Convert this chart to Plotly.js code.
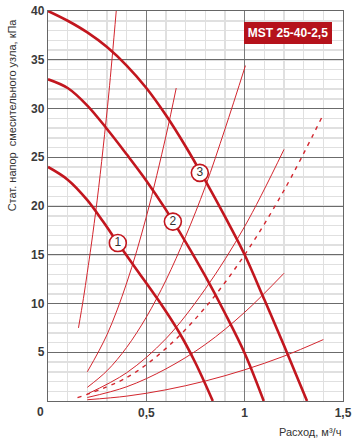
<!DOCTYPE html>
<html>
<head>
<meta charset="utf-8">
<script src="https://cdn.plot.ly/plotly-3.0.1.min.js"></script>
<style>html,body{margin:0;padding:0;background:#fff;}#chart{width:359px;height:440px;}</style>
</head>
<body>
<div id="chart"></div>
<script>
// Pump curves (thick)
const pump1X = [0, 0.1, 0.2, 0.28, 0.355, 0.45, 0.559, 0.668, 0.75, 0.838];
const pump1Y = [24, 22.7, 20.6, 18.4, 16.2, 13.5, 10.4, 7.0, 3.9, 0];
const pump2X = [0, 0.1, 0.2, 0.3, 0.4, 0.5, 0.6, 0.7, 0.8, 0.9, 1.0, 1.097];
const pump2Y = [33, 32.1, 30.3, 27.9, 25.3, 22.6, 19.6, 16.3, 12.8, 9.0, 4.9, 0];
const pump3X = [0, 0.1, 0.2, 0.3, 0.4, 0.5, 0.6, 0.7, 0.8, 0.9, 1.0, 1.1, 1.2, 1.317];
const pump3Y = [40, 39.0, 37.8, 36.3, 34.4, 32.1, 29.3, 26.1, 22.6, 18.9, 15.0, 10.4, 5.7, 0];

// System curves (thin)
const sys1X = [0.155, 0.18, 0.2, 0.22, 0.25, 0.28, 0.31, 0.347];
const sys1Y = [7.5, 10.5, 13.2, 16.0, 20.6, 25.9, 31.7, 40];
const sys2X = [0.2, 0.3, 0.4, 0.5, 0.6, 0.652];
const sys2Y = [3.0, 6.8, 12.1, 18.9, 27.2, 32.1];
const sys3X = [0.2, 0.3, 0.4, 0.5, 0.6, 0.7, 0.8, 0.9, 1.004];
const sys3Y = [1.4, 3.1, 5.5, 8.6, 12.4, 16.9, 22.0, 27.9, 34.4];
const sys4X = [0.2, 0.4, 0.6, 0.8, 1.0, 1.2];
const sys4Y = [0.72, 2.9, 6.4, 11.5, 17.9, 25.8];
const sysDashX = [0.15, 0.4, 0.6, 0.8, 1.0, 1.2, 1.4];
const sysDashY = [0.34, 2.4, 5.4, 9.6, 15.0, 21.6, 29.4];
const sys6X = [0.2, 0.4, 0.6, 0.8, 1.0, 1.2];
const sys6Y = [0.36, 1.46, 3.3, 5.8, 9.1, 13.1];
const sys7X = [0.2, 0.4, 0.6, 0.8, 1.0, 1.2, 1.4];
const sys7Y = [0.13, 0.5, 1.15, 2.05, 3.2, 4.6, 6.3];

// Curve number markers
const markX = [0.355, 0.635, 0.772];
const markY = [16.2, 18.4, 23.4];
const markText = ['1', '2', '3'];

// Ticks
const xTickVals = [0.5, 1, 1.5];
const xTickText = ['0,5', '1', '1,5'];
const yTickVals = [5, 10, 15, 20, 25, 30, 35, 40];

const thick = '#c2161e';
const thin = '#d3262e';
const font = 'Liberation Sans, Arial, sans-serif';

function thinLine(x, y, dash) {
  return {x: x, y: y, type: 'scatter', mode: 'lines',
    line: {color: thin, width: dash ? 1.4 : 1, shape: 'spline', smoothing: 1, dash: dash ? '4px,5px' : 'solid'},
    hoverinfo: 'skip', showlegend: false};
}
function thickLine(x, y) {
  return {x: x, y: y, type: 'scatter', mode: 'lines',
    line: {color: thick, width: 2.6, shape: 'spline', smoothing: 1},
    hoverinfo: 'skip', showlegend: false};
}

const data = [
  thinLine(sys1X, sys1Y), thinLine(sys2X, sys2Y), thinLine(sys3X, sys3Y),
  thinLine(sys4X, sys4Y), thinLine(sysDashX, sysDashY, true),
  thinLine(sys6X, sys6Y), thinLine(sys7X, sys7Y),
  thickLine(pump1X, pump1Y), thickLine(pump2X, pump2Y), thickLine(pump3X, pump3Y),
  {x: markX, y: markY, text: markText, type: 'scatter', mode: 'markers+text',
   marker: {size: 17, color: '#ffffff', line: {color: thick, width: 1.6}},
   textposition: 'middle center', textfont: {family: font, size: 12, color: '#333'},
   hoverinfo: 'skip', showlegend: false}
];

const layout = {
  width: 359, height: 440,
  margin: {l: 48, r: 16, t: 11, b: 39, pad: 0},
  paper_bgcolor: '#fff', plot_bgcolor: '#fff',
  font: {family: font, size: 12, color: '#3a3a3a'},
  showlegend: false,
  xaxis: {
    range: [0, 1.5], tickvals: xTickVals, ticktext: xTickText, ticks: '',
    showgrid: true, gridcolor: '#7a7a7a', gridwidth: 1,
    minor: {dtick: 0.1, showgrid: true, gridcolor: '#e0e0e0', gridwidth: 1.5},
    showline: true, linecolor: '#666', linewidth: 1.2, mirror: true,
    zeroline: false, fixedrange: true,
    tickfont: {family: font, size: 12, color: '#3a3a3a', weight: 'bold'}
  },
  yaxis: {
    range: [0, 40], tickvals: yTickVals, ticks: '',
    showgrid: true, gridcolor: '#6b6b6b', gridwidth: 1,
    minor: {dtick: 1, showgrid: true, gridcolor: '#e0e0e0', gridwidth: 1.5},
    showline: true, linecolor: '#666', linewidth: 1.2, mirror: true,
    zeroline: false, fixedrange: true,
    tickfont: {family: font, size: 12, color: '#3a3a3a', weight: 'bold'}
  },
  annotations: [
    {text: '<b>MST 25-40-2,5</b>', x: 1.222, y: 37.7, xref: 'x', yref: 'y',
     showarrow: false, font: {family: font, size: 12, color: '#fff'},
     bgcolor: '#b5121b', width: 84, height: 18, borderpad: 2, borderwidth: 0},
    {text: '<b>0</b>', xref: 'paper', yref: 'paper', x: 0, y: 0,
     xshift: -8, yshift: -11, xanchor: 'center', yanchor: 'middle', showarrow: false,
     font: {family: font, size: 12, color: '#3a3a3a'}},
    {text: 'Стат. напор\u00a0 смесительного узла, кПа', textangle: -90,
     xref: 'paper', yref: 'paper', x: -0.122, y: 0.985, xanchor: 'center', yanchor: 'top',
     showarrow: false, font: {family: font, size: 11, color: '#333'}},
    {text: 'Расход, м³/ч', xref: 'paper', yref: 'paper', x: 1, y: -0.079,
     xanchor: 'right', yanchor: 'middle', showarrow: false,
     font: {family: font, size: 11, color: '#333'}}
  ]
};

Plotly.newPlot('chart', data, layout, {staticPlot: true, displayModeBar: false});
</script>
</body>
</html>
